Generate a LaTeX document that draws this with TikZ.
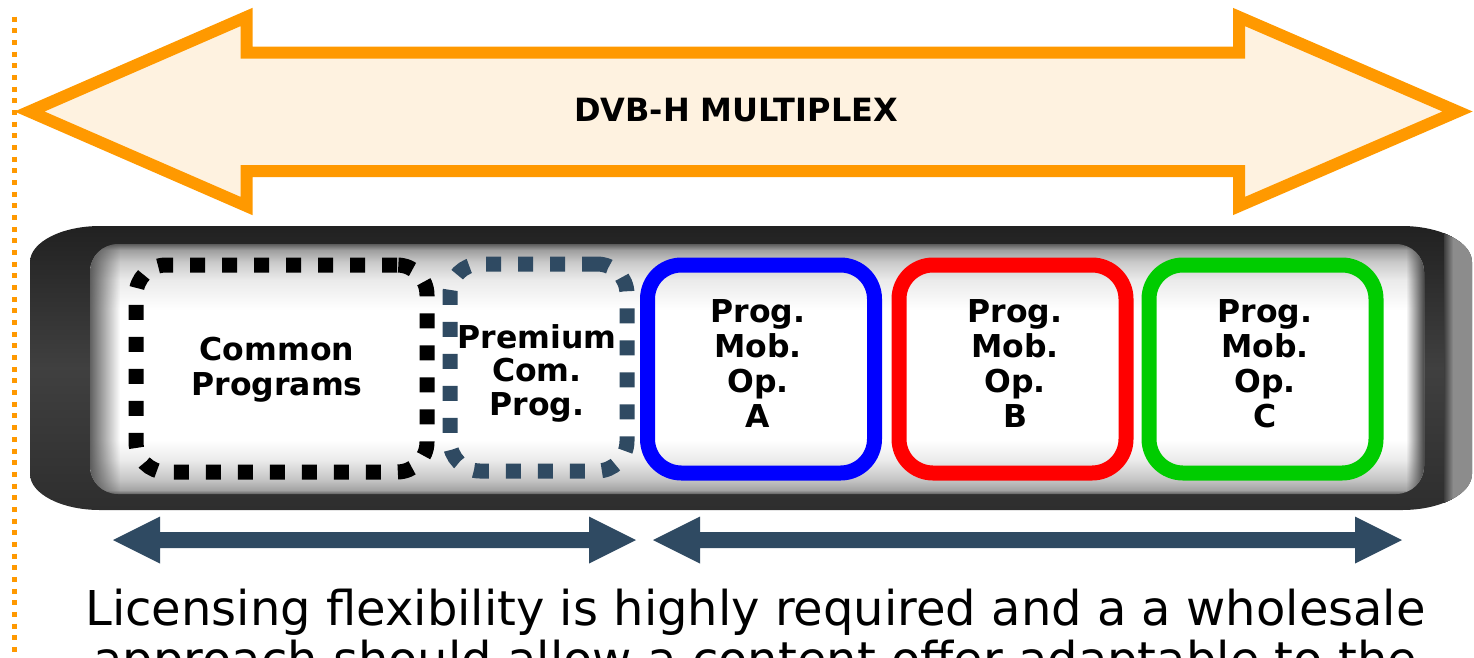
\documentclass[tikz,border=0pt]{standalone}
\usepackage{fontspec}
\setmainfont{DejaVu Sans}
\usetikzlibrary{fadings}

\definecolor{orangeline}{HTML}{FF9900}
\definecolor{orangefill}{HTML}{FEF2E0}
\definecolor{slate}{HTML}{2F4A62}
\definecolor{opblue}{HTML}{0000FF}
\definecolor{opred}{HTML}{FF0000}
\definecolor{opgreen}{HTML}{00CC00}

% light band inside the tube: grey rims, white middle
\pgfdeclareverticalshading{tubeband}{100bp}{%
  color(0bp)=(black!62); color(25bp)=(black!62);
  color(25.8bp)=(black!36); color(27.8bp)=(black!23); color(31.8bp)=(black!8);
  color(35.8bp)=(white); color(61.8bp)=(white); color(67.8bp)=(black!8);
  color(71.4bp)=(black!21); color(73.8bp)=(black!38); color(75bp)=(black!64);
  color(100bp)=(black!64)}
% dark shell of the tube
\pgfdeclareverticalshading{tubeshell}{100bp}{%
  color(0bp)=(black!82); color(25bp)=(black!82); color(50bp)=(black!75);
  color(75bp)=(black!87); color(100bp)=(black!87)}
\tikzfading[name=faderight, left color=transparent!0, right color=transparent!100]
\tikzfading[name=fadeleft, left color=transparent!100, right color=transparent!0]

\tikzset{
  dotbox/.style={rectangle, rounded corners=30pt, line width=15pt,
    dash pattern=on 15pt off 17pt, inner sep=0pt, minimum height=207pt},
  opbox/.style={rectangle, rounded corners=34pt, line width=15pt,
    inner sep=0pt, minimum width=227pt, minimum height=208pt},
  boxtext/.style={font=\bfseries\fontsize{31.5}{35}\selectfont, align=center, inner sep=0pt},
  notetext/.style={font=\fontsize{48}{56}\selectfont, anchor=base, inner sep=0pt},
  spanarrow/.style={fill=slate},
}

\begin{document}
\begin{tikzpicture}[x=1pt, y=-1pt]
\clip (0,0) rectangle (1474,657);

% ---------- the tube ----------
\def\tubeoutline{(100,226) -- (1402,226)
  .. controls (1440.5,226) and (1472,242.2) .. (1472,262) -- (1472,474)
  .. controls (1472,493.8) and (1440.5,510) .. (1402,510) -- (100,510)
  .. controls (61.5,510) and (30,493.8) .. (30,474) -- (30,262)
  .. controls (30,242.2) and (61.5,226) .. (100,226) -- cycle}
\path[shading=tubeshell] \tubeoutline;
\begin{scope}
  \clip \tubeoutline;
  \fill[left color=black!76, right color=black!45] (1444,200) rectangle (1453,540);
  \fill[black!45] (1453,200) rectangle (1474,540);
\end{scope}
\path[shading=tubeband, rounded corners=28pt] (90,244) rectangle (1424,494);
\begin{scope}
  \clip[rounded corners=28pt] (90,244) rectangle (1424,494);
  \fill[black!70, path fading=faderight] (86,240) rectangle (120,500);
  \fill[black!72, path fading=fadeleft] (1406,240) rectangle (1424,500);
\end{scope}

% ---------- programme boxes ----------
\node[dotbox, draw=black, minimum width=291pt] (common) at (281.5,368.5) {};
\node[dotbox, draw=slate, minimum width=177pt] (premium) at (538.5,367.5) {};
\node[opbox, draw=opblue] (opA) at (761,369) {};
\node[opbox, draw=opred] (opB) at (1012.5,369) {};
\node[opbox, draw=opgreen] (opC) at (1262.5,369) {};

\node[boxtext] (commontext) at (277,369.5) {Common\\Programs};
\node[boxtext, font=\bfseries\fontsize{31.5}{33.5}\selectfont] (premiumtext) at (537,373) {Premium\\Com.\\Prog.};
\node[boxtext] (opAtext) at (758,363.5) {Prog.\\Mob.\\Op.\\A};
\node[boxtext] (opBtext) at (1015,363.5) {Prog.\\Mob.\\Op.\\B};
\node[boxtext] (opCtext) at (1265,363.5) {Prog.\\Mob.\\Op.\\C};

% ---------- multiplex arrow ----------
\draw[orangeline, fill=orangefill, line width=12pt, miter limit=10]
  (29.5,111.5) -- (246.5,17) -- (246.5,52.5) -- (1239,52.5) -- (1239,17)
  -- (1457.5,111.5) -- (1239,206) -- (1239,171) -- (246.5,171) -- (246.5,206) -- cycle;
\node[font=\bfseries\fontsize{32}{38}\selectfont, anchor=base, inner sep=0pt] (title) at (736,121) {DVB-H MULTIPLEX};

% ---------- licensing spans ----------
\coordinate (spanAl) at (113,540);
\coordinate (spanAr) at (636,540);
\coordinate (spanBl) at (653,540);
\coordinate (spanBr) at (1402,540);
\fill[spanarrow] (spanAl) -- (160,516.5) -- (160,532) -- (589,532) -- (589,516.5)
  -- (spanAr) -- (589,563.5) -- (589,548) -- (160,548) -- (160,563.5) -- cycle;
\fill[spanarrow] (spanBl) -- (700,516.5) -- (700,532) -- (1355,532) -- (1355,516.5)
  -- (spanBr) -- (1355,563.5) -- (1355,548) -- (700,548) -- (700,563.5) -- cycle;

% ---------- caption ----------
\node[notetext] (note1) at (755.5,625) {Licensing flexibility is highly required and a a wholesale};
\node[notetext] (note2) at (755,676) {approach should allow a content offer adaptable to the};

% ---------- left marker line ----------
\draw[orangeline, line width=5pt, dash pattern=on 5pt off 6.67pt] (14.5,16.7) -- (14.5,660);
\end{tikzpicture}
\end{document}
